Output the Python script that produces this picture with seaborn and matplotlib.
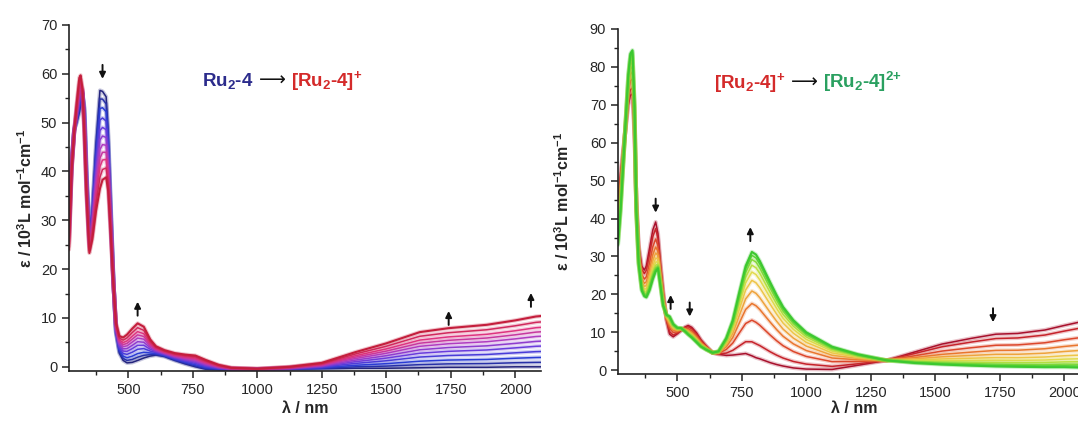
import numpy as np
import pandas as pd
import matplotlib
matplotlib.use("Agg")
import matplotlib.pyplot as plt
import matplotlib.patheffects as pe
import seaborn as sns
from matplotlib.colors import LinearSegmentedColormap
from matplotlib.offsetbox import TextArea, HPacker, AnnotationBbox

# ---- left panel: Ru2-4 -> [Ru2-4]+ ----
wl_left = [270, 280, 290, 300, 310, 315, 322, 330, 338, 349, 360, 375, 390, 400, 414,
           422, 432, 442, 452, 465, 480, 495, 515, 536, 560, 585, 607, 640, 680, 720,
           760, 800, 850, 900, 1000, 1125, 1250, 1380, 1500, 1630, 1740, 1890, 2000,
           2080, 2100]
eps_ru24 = [30, 42, 48.5, 50, 52, 53.5, 56, 53, 40, 27.4, 32, 46, 56.6, 56.4, 55.3,
            48, 33, 18, 7, 2.8, 1.3, 0.8, 0.9, 1.3, 1.8, 2.2, 2.4, 2.1, 1.3, 0.6,
            0, -0.5, -0.6, -0.6, -0.6, -0.5, -0.4, -0.3, -0.3, -0.2, -0.1, -0.1, 0,
            0, 0]
eps_ru24_ox1 = [24, 40, 48, 54, 59.2, 59.7, 57, 47, 35, 23.3, 26, 32, 36.5, 38.3, 38.8,
                36, 27, 17, 9, 6.3, 6.0, 6.6, 7.8, 8.9, 8.2, 5.6, 4.2, 3.4, 2.8, 2.5,
                2.3, 1.4, 0.4, -0.2, -0.4, 0.0, 0.8, 3.0, 4.8, 7.1, 7.9, 8.6, 9.5,
                10.3, 10.4]
# absorption read at 2080 nm for every scan of the titration
nir_2080 = [0.0, 0.9, 1.9, 3.1, 4.2, 5.2, 6.2, 7.1, 8.0, 9.1, 10.3]

# ---- right panel: [Ru2-4]+ -> [Ru2-4]2+ ----
wl_right = [270, 280, 290, 300, 310, 318, 326, 334, 341, 350, 362, 372, 380, 392, 405,
            416, 425, 435, 445, 458, 470, 484, 500, 515, 530, 542, 556, 574, 592, 612,
            637, 660, 690, 715, 740, 765, 789, 805, 820, 840, 860, 885, 910, 950, 1000,
            1100, 1200, 1312, 1420, 1526, 1640, 1735, 1820, 1925, 2000, 2060, 2100]
eps_ox1 = [45, 52, 58, 64, 70, 72.5, 72.9, 62, 45, 33, 27.5, 26.4, 27.5, 32, 37,
           39.1, 36, 28, 21, 13.2, 9.5, 8.8, 9.6, 10.5, 11.4, 11.8, 11.3, 9.9, 8.0, 6.4,
           4.6, 4.2, 3.9, 4.0, 4.2, 4.4, 3.8, 3.3, 3.0, 2.5, 2.0, 1.5, 1.1, 0.6, 0.3,
           0.2, 1.3, 2.6, 4.8, 6.9, 8.4, 9.5, 9.7, 10.6, 11.8, 12.7, 13.2]
eps_ox2 = [33, 42, 54, 66, 78, 83.5, 84.4, 70, 42, 28, 21, 19.5, 19.2, 21, 24,
           26, 26.8, 22, 17, 14.6, 14.2, 12.2, 11.2, 11.1, 10.2, 9.4, 8.6, 7.4, 6.2, 5.4,
           4.6, 5.0, 8.5, 13.2, 20.5, 27.5, 31.2, 30.5, 28.8, 26.0, 23.2, 19.8, 16.7, 13.2, 10.0,
           6.2, 4.2, 2.6, 1.9, 1.5, 1.2, 1.0, 0.9, 0.8, 0.8, 0.7, 0.7]
# band maximum near 790 nm for every scan
peak_789 = [3.8, 7.5, 13.2, 17.6, 20.9, 23.7, 25.9, 27.7, 29.2, 30.3, 31.2]

left_colors = ["#24247c", "#2a3cd4", "#6a3cdc", "#b03cc0", "#de3480", "#c41e3c"]
right_colors = ["#a8102c", "#d42c2a", "#e8702c", "#f0b040", "#ecd850", "#b8e040",
                "#6cd838", "#3cc830"]


def titration_frame(wl, start, end, levels):
    start = np.array(start)
    end = np.array(end)
    rows = []
    for i, lev in enumerate(levels):
        f = (lev - levels[0]) / (levels[-1] - levels[0])
        for w, e in zip(wl, start + f * (end - start)):
            rows.append({"wl": w, "eps": e, "scan": i})
    return pd.DataFrame(rows)


def draw_panel(ax, df, cmap_colors, ylim, yticks):
    cmap = LinearSegmentedColormap.from_list("t", cmap_colors)
    n = df["scan"].nunique()
    pal = [cmap(i / (n - 1)) for i in range(n)]
    sns.lineplot(data=df, x="wl", y="eps", hue="scan", palette=pal, legend=False,
                 estimator=None, linewidth=1.1, ax=ax)
    for line in ax.lines:
        line.set_path_effects([pe.Stroke(linewidth=3.0, foreground=line.get_color(), alpha=0.25),
                               pe.Normal()])
    ax.lines[-1].set_linewidth(1.5)
    ax.set_xlim(270, 2100)
    ax.set_ylim(*ylim)
    ax.set_xticks([500, 750, 1000, 1250, 1500, 1750, 2000])
    ax.set_xticks(np.arange(375, 2100, 250), minor=True)
    ax.set_yticks(yticks)
    ax.set_yticks(np.arange(5, yticks[-1], 10), minor=True)
    ax.tick_params(which="major", length=5, width=1.1, labelsize=10.5, color="#222222")
    ax.tick_params(which="minor", length=3, width=1.0, color="#222222")
    for s in ["top", "right"]:
        ax.spines[s].set_visible(False)
    for s in ["left", "bottom"]:
        ax.spines[s].set_linewidth(1.2)
        ax.spines[s].set_color("#222222")
    ax.set_xlabel("λ / nm", fontsize=11.5, fontweight="bold")
    ax.set_ylabel("ε / 10$^3$L mol$^{-1}$cm$^{-1}$", fontsize=11.5, fontweight="bold")


def arrows(ax, items, px_per_unit):
    half = 7.0 / px_per_unit
    for x, y, d in items:
        if d == "down":
            tip, tail = y - half, y + half
        else:
            tip, tail = y + half, y - half
        ax.annotate("", xy=(x, tip), xytext=(x, tail),
                    arrowprops=dict(arrowstyle="-|>", color="#111111", lw=1.4,
                                    mutation_scale=9, shrinkA=0, shrinkB=0))


def title(fig, parts, xy):
    areas = [TextArea(s, textprops=dict(color=c, fontsize=13.5,
                                        fontweight="bold" if b else "normal"))
             for s, c, b in parts]
    box = HPacker(children=areas, align="baseline", pad=0, sep=4)
    fig.add_artist(AnnotationBbox(box, xy, xycoords="figure fraction", frameon=False,
                                  box_alignment=(0.5, 0.5)))


sns.set_style("ticks")
plt.rcParams["font.family"] = ["Liberation Sans", "DejaVu Sans"]
plt.rcParams["mathtext.fontset"] = "custom"
plt.rcParams["mathtext.rm"] = "Liberation Sans:bold"
plt.rcParams["mathtext.bf"] = "Liberation Sans:bold"
plt.rcParams["mathtext.it"] = "Liberation Sans:bold"

fig = plt.figure(figsize=(10.78, 4.24), dpi=100)
ax1 = fig.add_axes([69 / 1078, 1 - 370.7 / 424, 472 / 1078, 345.7 / 424])
ax2 = fig.add_axes([618 / 1078, 1 - 374 / 424, 472 / 1078, 345 / 424])

draw_panel(ax1, titration_frame(wl_left, eps_ru24, eps_ru24_ox1, nir_2080),
           left_colors, (-0.8, 70), list(range(0, 71, 10)))
draw_panel(ax2, titration_frame(wl_right, eps_ox1, eps_ox2, peak_789),
           right_colors, (-1.0, 90), list(range(0, 91, 10)))

ax1.xaxis.set_label_coords(0.5, -0.088)
ax2.xaxis.set_label_coords(0.5, -0.078)
ax1.yaxis.set_label_coords(-0.072, 0.5)
ax2.yaxis.set_label_coords(-0.097, 0.5)

arrows(ax1, [(400, 60.4, "down"), (536, 11.9, "up"), (1742, 10.0, "up"),
             (2061, 13.7, "up")], 4.89)
arrows(ax2, [(322, 88.4, "up"), (416, 43.4, "down"), (474, 18.0, "up"),
             (548, 16.0, "down"), (783, 35.9, "up"), (1724, 14.5, "down")], 3.79)

title(fig, [("Ru$_2$-4", "#2c2c8c", True), ("⟶", "#111111", False),
            ("[Ru$_2$-4$]^{+}$", "#d42a2a", True)], (282 / 1078, 1 - 81 / 424))
title(fig, [("[Ru$_2$-4$]^{+}$", "#d42a2a", True), ("⟶", "#111111", False),
            ("[Ru$_2$-4$]^{2{+}}$", "#2aa060", True)], (808 / 1078, 1 - 82 / 424))

fig.savefig("out.png", dpi=100)
